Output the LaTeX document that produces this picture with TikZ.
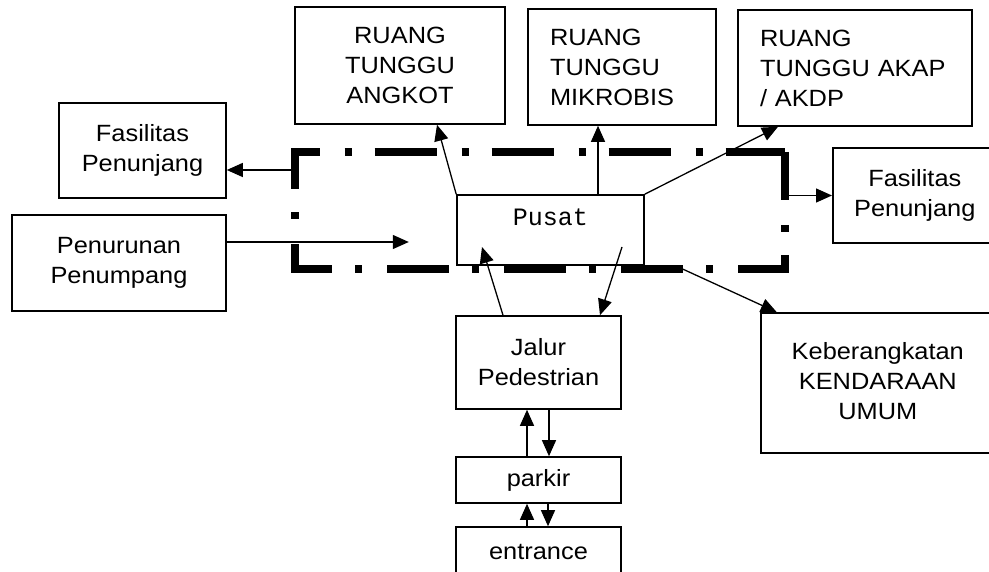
\documentclass[tikz,border=0pt]{standalone}
\usepackage{fontspec}
\setmainfont{Liberation Sans}[FakeStretch=1.08]
\setmonofont{Liberation Mono}
\usetikzlibrary{arrows.meta,positioning,calc}

\begin{document}
\begin{tikzpicture}[x=1pt, y=-1pt,
  box/.style={draw, line width=1.6pt, align=center, inner sep=0pt,
              font=\fontsize{23.5}{30}\selectfont},
  kiri/.style={box, align=left, inner xsep=22pt},
  arr/.style={-{Triangle[length=16pt,width=14pt]}, line width=1.3pt},
  zone/.style={line width=8pt, dash pattern=on 62pt off 25pt on 7pt off 23pt,
               dash phase=14pt}
]
\useasboundingbox (0,0) rectangle (989,572);
\clip (0,0) rectangle (989,572);

\node[minimum width=490, minimum height=117, inner sep=0pt] (zona) at (540,210.5) {};
\draw[zone] (zona.north east) -- (zona.south east) -- (zona.south west)
  -- (zona.north west) -- cycle;

\node[box, minimum width=210, minimum height=117] (angkot) at (400,65.5) {RUANG\\TUNGGU\\ANGKOT};
\node[kiri, text width=144pt, minimum height=116] (mikro) at (622,67) {RUANG\\TUNGGU\\MIKROBIS};
\node[kiri, text width=190pt, minimum height=116] (akap) at (855,68) {RUANG\\TUNGGU AKAP\\/ AKDP};

\node[box, minimum width=167, minimum height=95] (fasL) at (142.5,150.5) {Fasilitas\\Penunjang};
\node[box, minimum width=214, minimum height=96] (turun) at (119,263) {Penurunan\\Penumpang};
\node[box, anchor=west, minimum width=220, minimum height=95] (fasR) at (832,195.5)
  {\begin{tabular}{@{}c@{}}Fasilitas\\Penunjang\end{tabular}\hspace{56pt}};

\node[box, font=\ttfamily\fontsize{25}{30}\selectfont, text depth=26pt,
      minimum width=187, minimum height=70] (pusat) at (550.5,230) {Pusat};

\node[box, minimum width=165, minimum height=93] (jalur) at (538.5,362.5) {Jalur\\Pedestrian};
\node[box, minimum width=165, minimum height=46] (parkir) at (538.5,480) {parkir};
\node[box, minimum width=165, minimum height=50] (entr) at (538.5,552) {entrance};
\node[box, anchor=west, minimum width=300, minimum height=140] (berangkat) at (760,383)
  {\begin{tabular}{@{}c@{}}Keberangkatan\\KENDARAAN\\UMUM\end{tabular}\hspace{66pt}};

\coordinate (masuk) at (482,247);
\coordinate (keluar) at (622,247);
\path ([xshift=47.5pt]pusat.north) coordinate (m1);
\path ([yshift=-19.5pt]fasL.east) coordinate (f1);

\draw[arr] (pusat.north west) -- ([xshift=37pt]angkot.south);
\draw[arr] (m1) -- (m1 |- mikro.south);
\draw[arr] (pusat.north east) -- ([xshift=-77pt]akap.south);
\draw[arr] (zona.west |- f1) -- (f1);
\draw[arr] ([yshift=21pt]turun.east) -- ++(182,0);
\draw[arr] (zona.east |- fasR.west) -- (fasR.west);
\draw[arr] ([xshift=143pt]zona.south) -- ([xshift=-134pt]berangkat.north);
\draw[arr] ([xshift=-35.5pt]jalur.north) -- (masuk);
\draw[arr] (keluar) -- ([xshift=61.5pt]jalur.north);
\draw[arr] ([xshift=-11.5pt]parkir.north) -- ([xshift=-11.5pt]jalur.south);
\draw[arr] ([xshift=10.5pt]jalur.south) -- ([xshift=10.5pt]parkir.north);
\draw[arr] ([xshift=-11.5pt]entr.north) -- ([xshift=-11.5pt]parkir.south);
\draw[arr] ([xshift=9.5pt]parkir.south) -- ([xshift=9.5pt]entr.north);

\end{tikzpicture}
\end{document}
